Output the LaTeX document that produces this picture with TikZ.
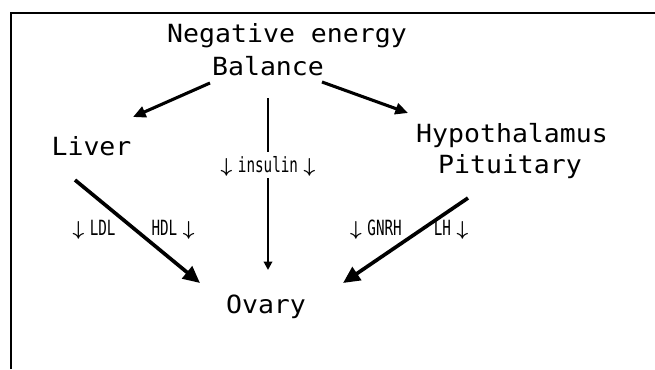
\documentclass[tikz,border=0pt]{standalone}
\usepackage{fontspec}
\usepackage{amsmath}
\usepackage{amssymb}
\usetikzlibrary{arrows.meta,calc}
\newfontfamily\boxfont[FakeStretch=1.06]{DejaVu Sans Mono}
\newfontfamily\tagfont[FakeStretch=0.68]{DejaVu Sans Mono}
\newcommand{\dn}{$\boldsymbol{\downarrow}$}
\newcommand{\gap}{\hspace{4pt}}
\tikzset{
  organ/.style={font=\boxfont\fontsize{17.8pt}{20pt}\selectfont, anchor=base, inner sep=0pt},
  hormone/.style={font=\tagfont\fontsize{14.9pt}{16pt}\selectfont, anchor=base, inner sep=0pt},
  toparrow/.style={-{Triangle[length=9pt,width=8pt]}, line width=2.2pt},
  bigarrow/.style={-{Triangle[length=12pt,width=11pt]}, line width=2.6pt},
  midarrow/.style={line width=1.4pt}
}
\begin{document}
\begin{tikzpicture}[x=0.025cm, y=-0.025cm]
\useasboundingbox (0,0) rectangle (655,369);
% frame
\draw[line width=1.6pt] (10.7,369) -- (10.7,12.7) -- (655,12.7);
% organs
\node[organ] (neg) at (287,42) {Negative energy};
\node[organ] (bal) at (268,75) {Balance};
\node[organ] (liver) at (91.5,155) {Liver};
\node[organ] (hyp) at (512,142) {Hypothalamus};
\node[organ] (pit) at (510,173) {Pituitary};
\node[organ] (ovary) at (266,313) {Ovary};
% hormones
\node[hormone] (ins) at (268,172) {\dn\gap insulin\gap\dn};
\node[hormone] (ldl) at (94,235) {\dn\gap LDL};
\node[hormone] (hdl) at (173,235) {HDL\gap\dn};
\node[hormone] (gnrh) at (376,235) {\dn\gap GNRH};
\node[hormone] (lh) at (451,235) {LH\gap\dn};
% arrows
\draw[toparrow] ($(bal.base)+(-58,8)$) -- ($(liver.base)+(41.5,-38)$);
\draw[toparrow] ($(bal.base)+(54,7)$) -- ($(hyp.base)+(-104,-29)$);
\draw[midarrow] ($(bal.base)+(0,23)$) -- ($(ins.base)+(0,-20)$);
\draw[midarrow, -{Triangle[length=6pt,width=6pt]}] ($(ins.base)+(0,6)$) -- ($(ovary.base)+(2,-43)$);
\draw[bigarrow] ($(liver.base)+(-16.5,25)$) -- ($(ovary.base)+(-66,-30)$);
\draw[bigarrow] ($(pit.base)+(-42,25)$) -- ($(ovary.base)+(77,-30)$);
\end{tikzpicture}
\end{document}
